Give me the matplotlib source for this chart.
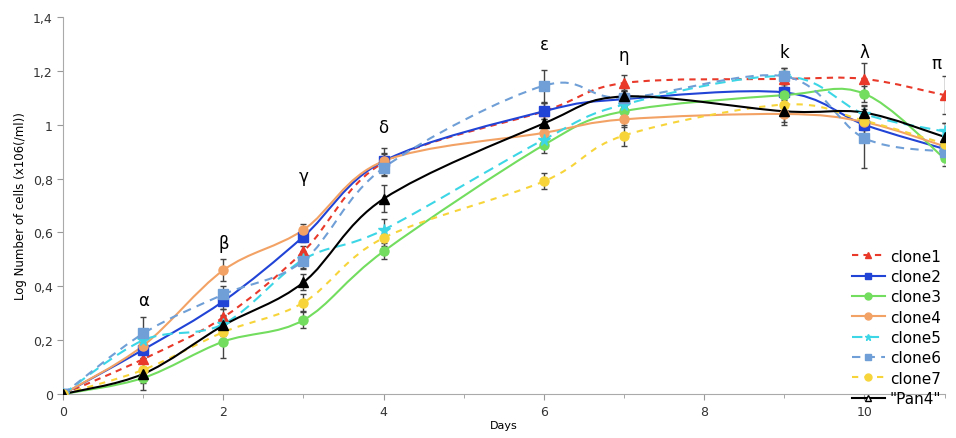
import numpy as np
import matplotlib
matplotlib.use("Agg")
import matplotlib.pyplot as plt
from matplotlib.path import Path
from matplotlib.patches import PathPatch
from matplotlib.lines import Line2D
from matplotlib.ticker import FuncFormatter

days = [0, 1, 2, 3, 4, 6, 7, 9, 10, 11]

clone1 = [0, 0.13, 0.285, 0.53, 0.86, 1.05, 1.155, 1.17, 1.17, 1.11]
clone2 = [0, 0.165, 0.345, 0.585, 0.865, 1.05, 1.095, 1.12, 1.00, 0.91]
clone3 = [0, 0.06, 0.195, 0.275, 0.53, 0.925, 1.05, 1.11, 1.115, 0.875]
clone4 = [0, 0.18, 0.46, 0.61, 0.865, 0.97, 1.02, 1.04, 1.01, 0.92]
clone5 = [0, 0.20, 0.26, 0.50, 0.61, 0.945, 1.075, 1.18, 1.04, 0.975]
clone6 = [0, 0.225, 0.37, 0.495, 0.84, 1.145, 1.10, 1.18, 0.95, 0.90]
clone7 = [0, 0.09, 0.23, 0.34, 0.58, 0.79, 0.96, 1.075, 1.015, 0.93]
pan4 = [0, 0.075, 0.255, 0.415, 0.725, 1.005, 1.105, 1.05, 1.045, 0.955]

# error bar half widths
err1 = [0, 0.03, 0.03, 0.02, 0.03, 0.03, 0.03, 0.03, 0.06, 0.07]
err2 = [0, 0.03, 0.03, 0.02, 0.03, 0.03, 0.03, 0.03, 0.04, 0.03]
err3 = [0, 0.02, 0.06, 0.03, 0.03, 0.03, 0.03, 0.03, 0.03, 0.03]
err4 = [0, 0.03, 0.04, 0.02, 0.05, 0.03, 0.03, 0.03, 0.03, 0.03]
err5 = [0, 0.03, 0.03, 0.03, 0.04, 0.03, 0.03, 0.03, 0.03, 0.03]
err6 = [0, 0.06, 0.03, 0.03, 0.03, 0.06, 0.03, 0.03, 0.11, 0.03]
err7 = [0, 0.03, 0.03, 0.03, 0.03, 0.03, 0.04, 0.03, 0.03, 0.03]
errp = [0, 0.06, 0.04, 0.03, 0.05, 0.03, 0.03, 0.05, 0.03, 0.05]

series = [
    ("clone1", clone1, err1, "#e8392a", "^", (0, (3, 2.5))),
    ("clone2", clone2, err2, "#2143d6", "s", "-"),
    ("clone3", clone3, err3, "#72dd5e", "o", "-"),
    ("clone4", clone4, err4, "#f3a265", "o", "-"),
    ("clone5", clone5, err5, "#3cd6e6", "*", (0, (5, 3))),
    ("clone6", clone6, err6, "#6f9fd6", "s", (0, (4, 3))),
    ("clone7", clone7, err7, "#f7d53a", "o", (0, (3, 3))),
    ('"Pan4"', pan4, errp, "#000000", "^", "-"),
]

greek = ["α", "β", "γ", "δ", "ε", "η", "k", "λ", "π"]
greek_x = [1, 2, 3, 4, 6, 7, 9, 10, 10.9]
greek_y = [0.35, 0.56, 0.81, 0.99, 1.30, 1.26, 1.27, 1.27, 1.23]


def smooth(x, y):
    # excel-like smoothed line through the points
    verts = [(x[0], y[0])]
    codes = [Path.MOVETO]
    n = len(x)
    for i in range(n - 1):
        a = max(i - 1, 0)
        b = min(i + 2, n - 1)
        c1 = (x[i] + (x[i + 1] - x[a]) / 6, y[i] + (y[i + 1] - y[a]) / 6)
        c2 = (x[i + 1] - (x[b] - x[i]) / 6, y[i + 1] - (y[b] - y[i]) / 6)
        verts += [c1, c2, (x[i + 1], y[i + 1])]
        codes += [Path.CURVE4] * 3
    return Path(verts, codes)


fig = plt.figure(figsize=(9.56, 4.39), dpi=100)
ax = fig.add_axes([0.066, 0.10, 0.922, 0.859])

handles = []
for name, y, e, col, mk, ls in series:
    ax.add_patch(PathPatch(smooth(days, y), fill=False, edgecolor=col,
                           linestyle=ls, linewidth=1.5, zorder=2))
    ax.errorbar(days, y, yerr=e, fmt="none", ecolor="#444444",
                elinewidth=1, capsize=2.5, zorder=3)
    ax.plot(days, y, linestyle="none", marker=mk, color=col,
            markersize=6.5 if mk != "*" else 8.5, zorder=4)
    handles.append(Line2D([], [], color=col, linestyle=ls, linewidth=1.5,
                          marker=mk,
                          markerfacecolor=col if name != '"Pan4"' else "white",
                          markersize=5, label=name))

for g, gx, gy in zip(greek, greek_x, greek_y):
    ax.text(gx, gy, g, ha="center", va="center", fontsize=12)

ax.set_xlim(0, 11)
ax.set_ylim(0, 1.4)
ax.set_xticks([0, 2, 4, 6, 8, 10])
ax.set_xticks(range(0, 12), minor=True)
ax.set_yticks(np.arange(0, 1.41, 0.2))
ax.yaxis.set_major_formatter(FuncFormatter(lambda v, p: ("%g" % round(v, 1)).replace(".", ",")))
ax.tick_params(labelsize=9, colors="#333333", length=4, color="#999999")
ax.tick_params(which="minor", length=3, color="#999999")
for s in ["top", "right"]:
    ax.spines[s].set_visible(False)
for s in ["left", "bottom"]:
    ax.spines[s].set_color("#aaaaaa")

ax.set_xlabel("Days", fontsize=8, labelpad=2)
ax.set_ylabel("Log Number of cells (x106(/ml))", fontsize=8.5)

ax.legend(handles=handles, loc="lower right", bbox_to_anchor=(1.012, -0.068),
          frameon=False, fontsize=11, handlelength=2.2, handletextpad=0.3,
          labelspacing=0.35)

fig.savefig("out.png", dpi=100)
